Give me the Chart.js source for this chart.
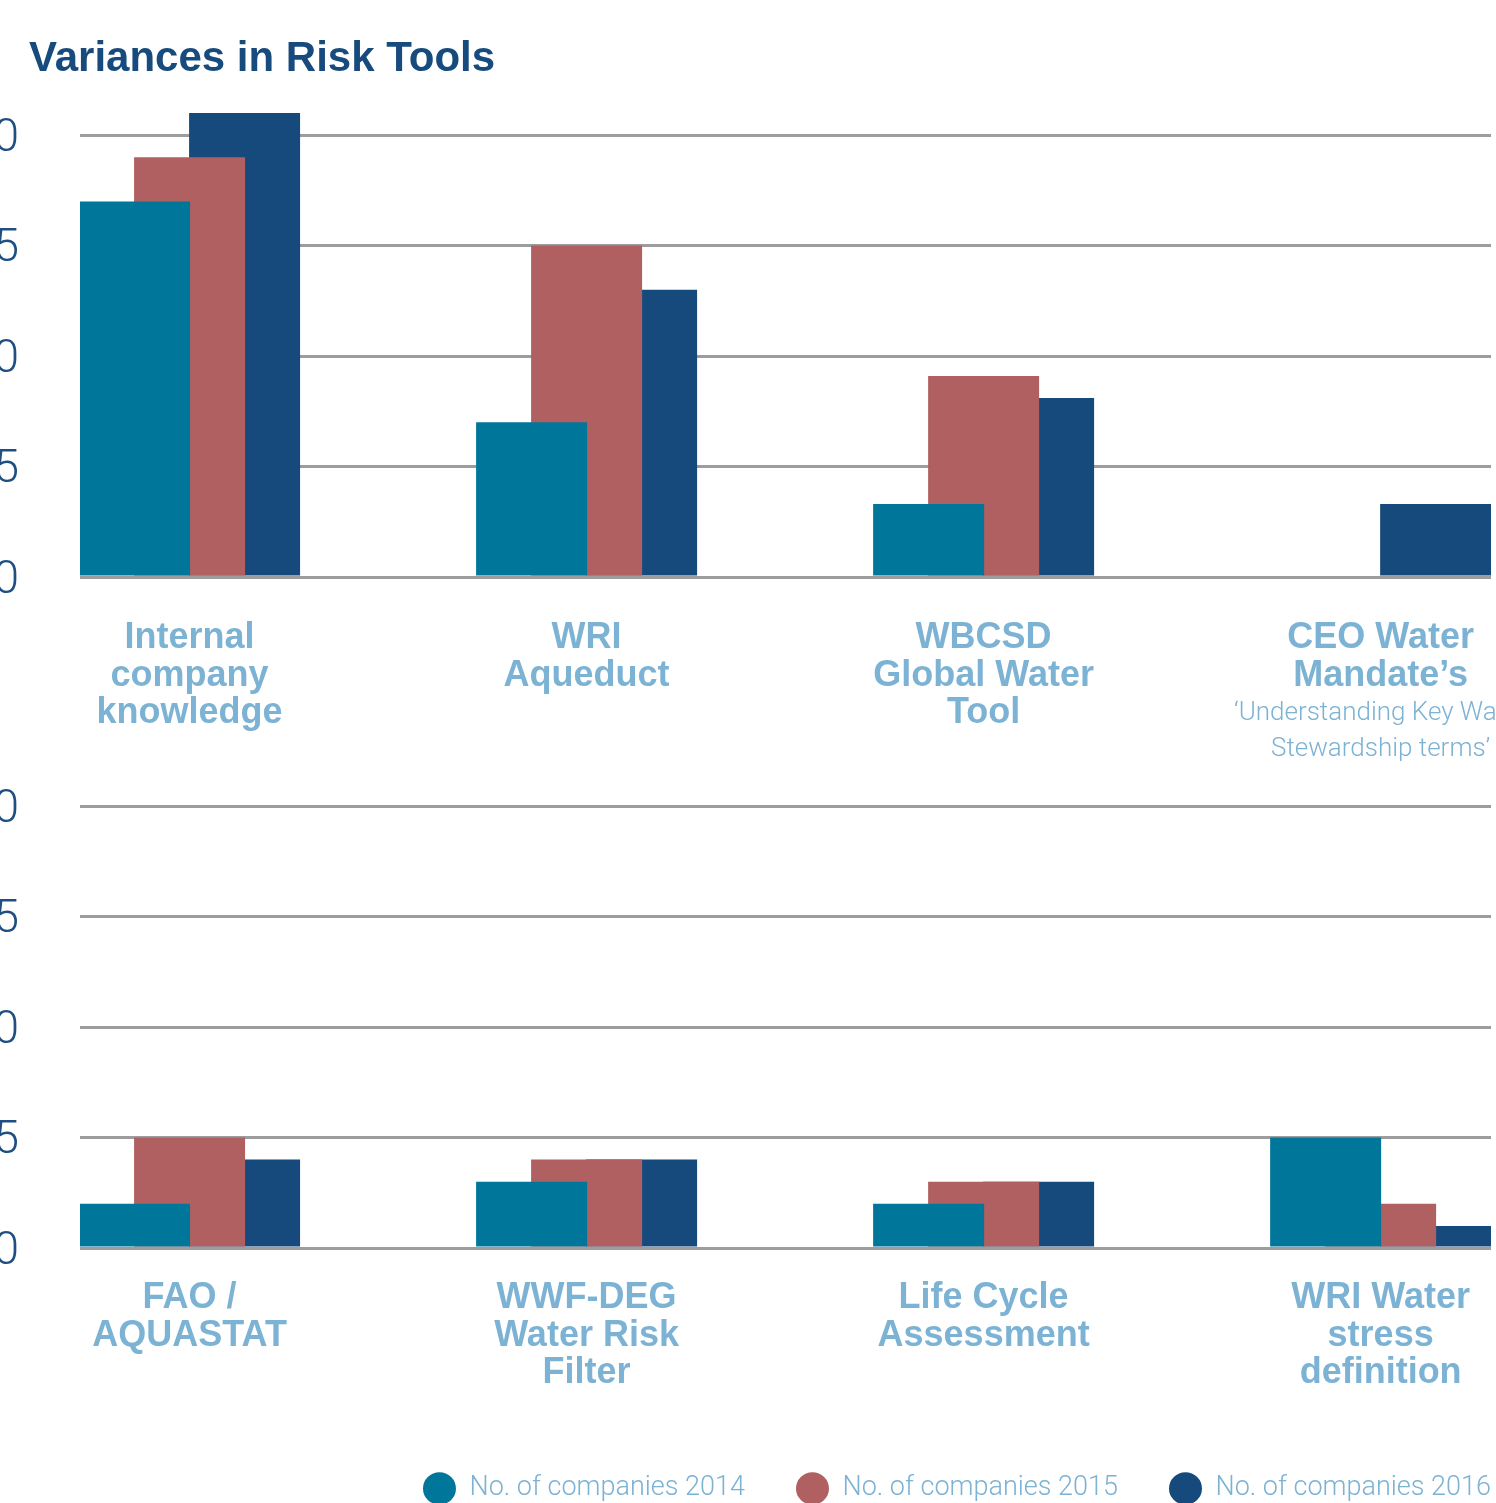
<!DOCTYPE html>
<html>
<head>
<meta charset="utf-8">
<script src="https://cdn.jsdelivr.net/npm/chart.js@4"></script>
<style>
  html, body { margin: 0; padding: 0; background: #fff; }
  body { width: 1496px; height: 1503px; overflow: hidden; position: relative; }
  canvas { position: absolute; left: -20px; }
  #topChart { top: 23px; }
  #bottomChart { top: 694px; }
  h1 {
    position: absolute; left: 29px; top: 36px; margin: 0; z-index: 2;
    font: bold 42px/42px "Liberation Sans", Arial, sans-serif;
    color: #174b7d;
  }
</style>
</head>
<body>
<canvas id="topChart" width="1562" height="750"></canvas>
<canvas id="bottomChart" width="1562" height="818"></canvas>
<h1>Variances in Risk Tools</h1>
<script>
// series names
const seriesLabels = ["No. of companies 2014", "No. of companies 2015", "No. of companies 2016"];

// upper panel
const topCategories = [
  ["Internal", "company", "knowledge"],
  ["WRI", "Aqueduct"],
  ["WBCSD", "Global Water", "Tool"],
  ["CEO Water", "Mandate’s"],
];
const topNotes = [null, null, null, ["‘Understanding Key Water", "Stewardship terms’"]];
const top2014 = [17, 7, 3.3, 0];
const top2015 = [19, 15, 9.1, 0];
const top2016 = [21, 13, 8.1, 3.3];

// lower panel
const bottomCategories = [
  ["FAO /", "AQUASTAT"],
  ["WWF-DEG", "Water Risk", "Filter"],
  ["Life Cycle", "Assessment"],
  ["WRI Water", "stress", "definition"],
];
const bottom2014 = [2, 3, 2, 5];
const bottom2015 = [5, 4, 3, 2];
const bottom2016 = [4, 4, 3, 1];

const yTicks = [0, 5, 10, 15, 20];

const colors = ["#00769a", "#b06060", "#174a7c"];
const labelBlue = "#7cb2d3";
const lightFont = "Roboto, 'Liberation Sans', Arial, sans-serif";
const boldFont = "'Liberation Sans', Arial, sans-serif";

// small light text under some category labels
const notesPlugin = {
  id: "notes",
  afterDraw(chart, args, opts) {
    if (!opts.lines) return;
    const ctx = chart.ctx;
    const xScale = chart.scales.x;
    const bottom = chart.chartArea.bottom;
    ctx.save();
    ctx.font = "300 26px " + lightFont;
    ctx.fillStyle = labelBlue;
    ctx.textAlign = "center";
    ctx.textBaseline = "alphabetic";
    opts.lines.forEach((lines, i) => {
      if (!lines) return;
      const x = xScale.getPixelForValue(i);
      lines.forEach((line, j) => ctx.fillText(line, x, bottom + 143 + j * 35.5));
    });
    ctx.restore();
  },
};

function buildPanel(canvasId, categories, series, notes, showLegend, labelPadding) {
  const datasets = series.map((values, s) => ({
    label: seriesLabels[s],
    data: values.map((v, i) => ({ x: i, y: v })),
    backgroundColor: colors[s],
    borderWidth: 0,
    categoryPercentage: 0.4156,
    barPercentage: 2.018,
  }));

  return new Chart(document.getElementById(canvasId), {
    type: "bar",
    data: { datasets },
    plugins: [notesPlugin],
    options: {
      responsive: false,
      animation: false,
      layout: { padding: { top: 90, right: 0, bottom: showLegend ? 0 : 20, left: 0 } },
      scales: {
        x: {
          type: "linear",
          offset: false,
          min: -0.276,
          max: 3.278,
          grid: { display: false },
          border: { display: false },
          afterBuildTicks: (scale) => {
            scale.ticks = categories.map((c, i) => ({ value: i }));
          },
          afterFit: (scale) => {
            scale.height = 176;
          },
          ticks: {
            autoSkip: false,
            maxRotation: 0,
            padding: labelPadding,
            color: labelBlue,
            font: { family: boldFont, size: 36, weight: "bold", lineHeight: 1.05 },
            callback: (value) => categories[value],
          },
        },
        y: {
          min: 0,
          max: 21,
          grid: { color: "#9d9d9f", lineWidth: 3, drawTicks: false },
          border: { display: false },
          afterBuildTicks: (scale) => {
            scale.ticks = yTicks.map((v) => ({ value: v }));
          },
          afterFit: (scale) => {
            scale.width = 100;
          },
          ticks: {
            padding: 61,
            labelOffset: 4,
            color: "#1f4f82",
            font: { family: lightFont, size: 46, weight: 300 },
          },
        },
        pad: {
          type: "linear",
          position: "right",
          display: true,
          grid: { display: false },
          border: { display: false },
          ticks: { display: false },
          afterFit: (scale) => {
            scale.width = 51;
          },
        },
      },
      plugins: {
        notes: { lines: notes },
        tooltip: { enabled: false },
        legend: {
          display: showLegend,
          position: "bottom",
          align: "end",
          labels: {
            usePointStyle: true,
            pointStyle: "circle",
            boxHeight: 23,
            pointStyleWidth: 33,
            padding: 51,
            color: labelBlue,
            font: { family: lightFont, size: 27, weight: 300 },
          },
        },
      },
    },
  });
}

buildPanel("topChart", topCategories, [top2014, top2015, top2016], topNotes, false, 34);
buildPanel("bottomChart", bottomCategories, [bottom2014, bottom2015, bottom2016], null, true, 23);
</script>
</body>
</html>
